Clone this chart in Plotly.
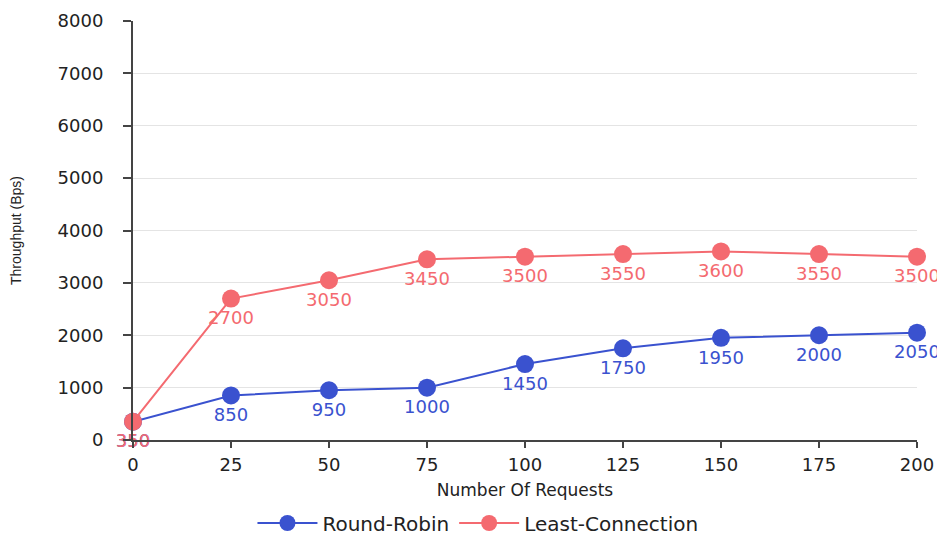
import plotly.graph_objects as go

requests = [0, 25, 50, 75, 100, 125, 150, 175, 200]
round_robin = [350, 850, 950, 1000, 1450, 1750, 1950, 2000, 2050]
least_conn = [350, 2700, 3050, 3450, 3500, 3550, 3600, 3550, 3500]

blue = "#3a52cf"
red = "#f46a70"
FONT = "DejaVu Sans"

fig = go.Figure()
fig.add_trace(go.Scatter(
    x=requests, y=round_robin, name="Round-Robin", mode="lines+markers+text",
    line=dict(color=blue, width=2), marker=dict(color=blue, size=18),
    text=[str(v) for v in round_robin], textposition="bottom center",
    textfont=dict(color=blue, size=18, family=FONT), cliponaxis=False,
))
fig.add_trace(go.Scatter(
    x=requests, y=least_conn, name="Least-Connection", mode="lines+markers+text",
    line=dict(color=red, width=2), marker=dict(color=red, size=18),
    text=[str(v) for v in least_conn], textposition="bottom center",
    textfont=dict(color=red, size=18, family=FONT), cliponaxis=False,
))

fig.update_layout(
    width=945, height=537,
    margin=dict(l=125, r=36, t=13, b=105),
    plot_bgcolor="white", paper_bgcolor="white",
    font=dict(family=FONT, color="#222222"),
    showlegend=True,
    legend=dict(orientation="h", x=0.44, xanchor="center",
                yref="container", y=0.041, yanchor="middle",
                font=dict(size=20, color="#222222"), itemwidth=60),
    xaxis=dict(
        title=dict(text="Number Of Requests", font=dict(size=17), standoff=11),
        tickvals=requests, range=[0, 200], automargin=False,
        showgrid=False, showline=True, linecolor="#444444", linewidth=2,
        ticks="outside", ticklen=6, tickcolor="#444444", tickwidth=2,
        tickfont=dict(size=18), zeroline=False, ticklabelstandoff=1,
    ),
    yaxis=dict(
        title=dict(text="Throughput (Bps)", font=dict(size=14, family="Liberation Sans"), standoff=33),
        range=[0, 8000], dtick=1000, automargin=False,
        showgrid=True, gridcolor="#e4e4e4", gridwidth=1,
        showline=True, linecolor="#444444", linewidth=2,
        ticks="outside", ticklen=8, tickcolor="#444444", tickwidth=2,
        tickfont=dict(size=18), zeroline=False, ticklabelstandoff=16,
    ),
)

fig.write_html("out.html")
